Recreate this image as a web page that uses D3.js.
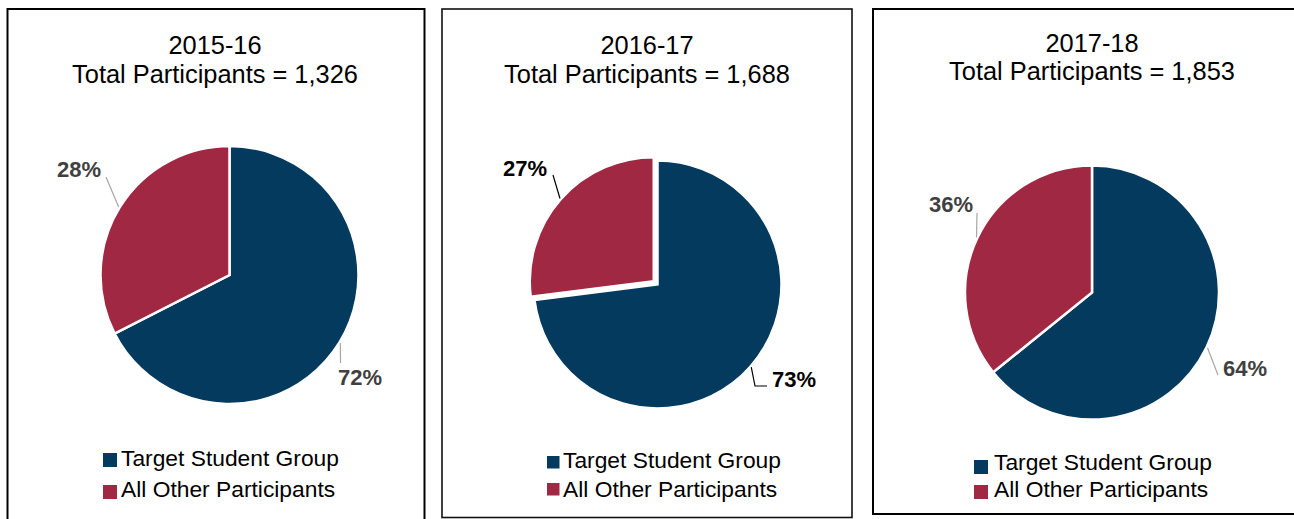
<!DOCTYPE html>
<html>
<head>
<meta charset="utf-8">
<script src="https://cdn.jsdelivr.net/npm/d3@7"></script>
<style>
  html, body { margin: 0; padding: 0; background: #fff; }
  svg { display: block; font-family: "Liberation Sans", Arial, sans-serif; }
</style>
</head>
<body>
<svg id="chart" width="1294" height="519"></svg>
<script>
// ---- data ----
const years = ["2015-16", "2016-17", "2017-18"];
const totals = ["1,326", "1,688", "1,853"];
const categories = ["Target Student Group", "All Other Participants"];
// slice shares as drawn in the picture
const targetShare = [67.5, 73, 64.2];
const otherShare = [32.5, 27, 35.8];
// data label texts as printed
const targetLabels = ["72%", "73%", "64%"];
const otherLabels = ["28%", "27%", "36%"];

// ---- layout (positions/styles only) ----
const colors = ["#033A5D", "#A12842"];
const panels = [
  { box: [7.5, 9, 424.5, 540], border: "#000", bw: 2, cx: 229.5, cy: 275, r: 129,
    titleX: 215, t1: 54, t2: 83, explode: [0, 0],
    labelColor: "#404040", lineColor: "#A6A6A6",
    labels: [ {x: 338, y: 385, end: [[340.5, 363]]}, {x: 57, y: 177, end: [[106, 177]]} ],
    legX: 103, legSq: 14, legRows: [466, 497], legSqY: [453, 485], textX: 121 },
  { box: [442, 9, 852, 517.5], border: "#111", bw: 1.6, cx: 657.5, cy: 284.5, r: 124,
    titleX: 647, t1: 54, t2: 83, explode: [0, 5],
    labelColor: "#000", lineColor: "#000",
    labels: [ {x: 772, y: 387, end: [[755, 386], [767, 386]]}, {x: 503, y: 176, end: [[553, 175]]} ],
    legX: 547, legSq: 12.5, legRows: [468, 497], legSqY: [456, 483], textX: 563 },
  { box: [873, 9, 1310, 514], border: "#000", bw: 2, cx: 1092, cy: 292.5, r: 127,
    titleX: 1092, t1: 52, t2: 80, explode: [0, 0],
    labelColor: "#404040", lineColor: "#A6A6A6",
    labels: [ {x: 1223, y: 376, end: [[1218, 375]]}, {x: 929, y: 212, end: [[977, 213]]} ],
    legX: 974, legSq: 14, legRows: [470, 497], legSqY: [460, 485], textX: 994 }
];

const svg = d3.select("#chart");
const pie = d3.pie().sort(null).value(d => d.v);

panels.forEach((p, i) => {
  const g = svg.append("g");
  const [x0, y0, x1, y1] = p.box;
  g.append("rect").attr("x", x0).attr("y", y0).attr("width", x1 - x0).attr("height", y1 - y0)
    .attr("fill", "#fff").attr("stroke", p.border).attr("stroke-width", p.bw);

  // title
  g.append("text").attr("x", p.titleX).attr("y", p.t1).attr("text-anchor", "middle")
    .attr("font-size", 25.4).attr("fill", "#000").text(years[i]);
  g.append("text").attr("x", p.titleX).attr("y", p.t2).attr("text-anchor", "middle")
    .attr("font-size", 25.4).attr("fill", "#000").text("Total Participants = " + totals[i]);

  const data = [
    { v: targetShare[i], label: targetLabels[i], k: 0 },
    { v: otherShare[i], label: otherLabels[i], k: 1 }
  ];
  const arcs = pie(data);
  const arc = d3.arc().innerRadius(0).outerRadius(p.r);
  const pg = g.append("g").attr("transform", `translate(${p.cx},${p.cy})`);

  arcs.forEach((a, j) => {
    const mid = (a.startAngle + a.endAngle) / 2;
    const ex = p.explode[j];
    const dx = Math.sin(mid) * ex, dy = -Math.cos(mid) * ex;
    pg.append("path").attr("d", arc(a)).attr("transform", `translate(${dx},${dy})`)
      .attr("fill", colors[a.data.k]).attr("stroke", "#fff").attr("stroke-width", 2.5)
      .attr("stroke-linejoin", "miter");

    // leader line from slice edge at mid-angle to label
    const lab = p.labels[j];
    const rr = p.r + 1;
    const sx = p.cx + dx + Math.sin(mid) * rr, sy = p.cy + dy - Math.cos(mid) * rr;
    const pts = [[sx, sy]].concat(lab.end);
    g.append("path").attr("d", d3.line()(pts)).attr("fill", "none")
      .attr("stroke", p.lineColor).attr("stroke-width", 1.2);
    g.append("text").attr("x", lab.x).attr("y", lab.y).attr("font-size", 22)
      .attr("font-weight", "bold").attr("fill", p.labelColor).text(a.data.label);
  });

  // legend
  categories.forEach((c, j) => {
    g.append("rect").attr("x", p.legX).attr("y", p.legSqY[j]).attr("width", p.legSq).attr("height", p.legSq)
      .attr("fill", colors[j]);
    g.append("text").attr("x", p.textX).attr("y", p.legRows[j]).attr("font-size", 22.8)
      .attr("fill", "#000").text(c);
  });
});
</script>
</body>
</html>
